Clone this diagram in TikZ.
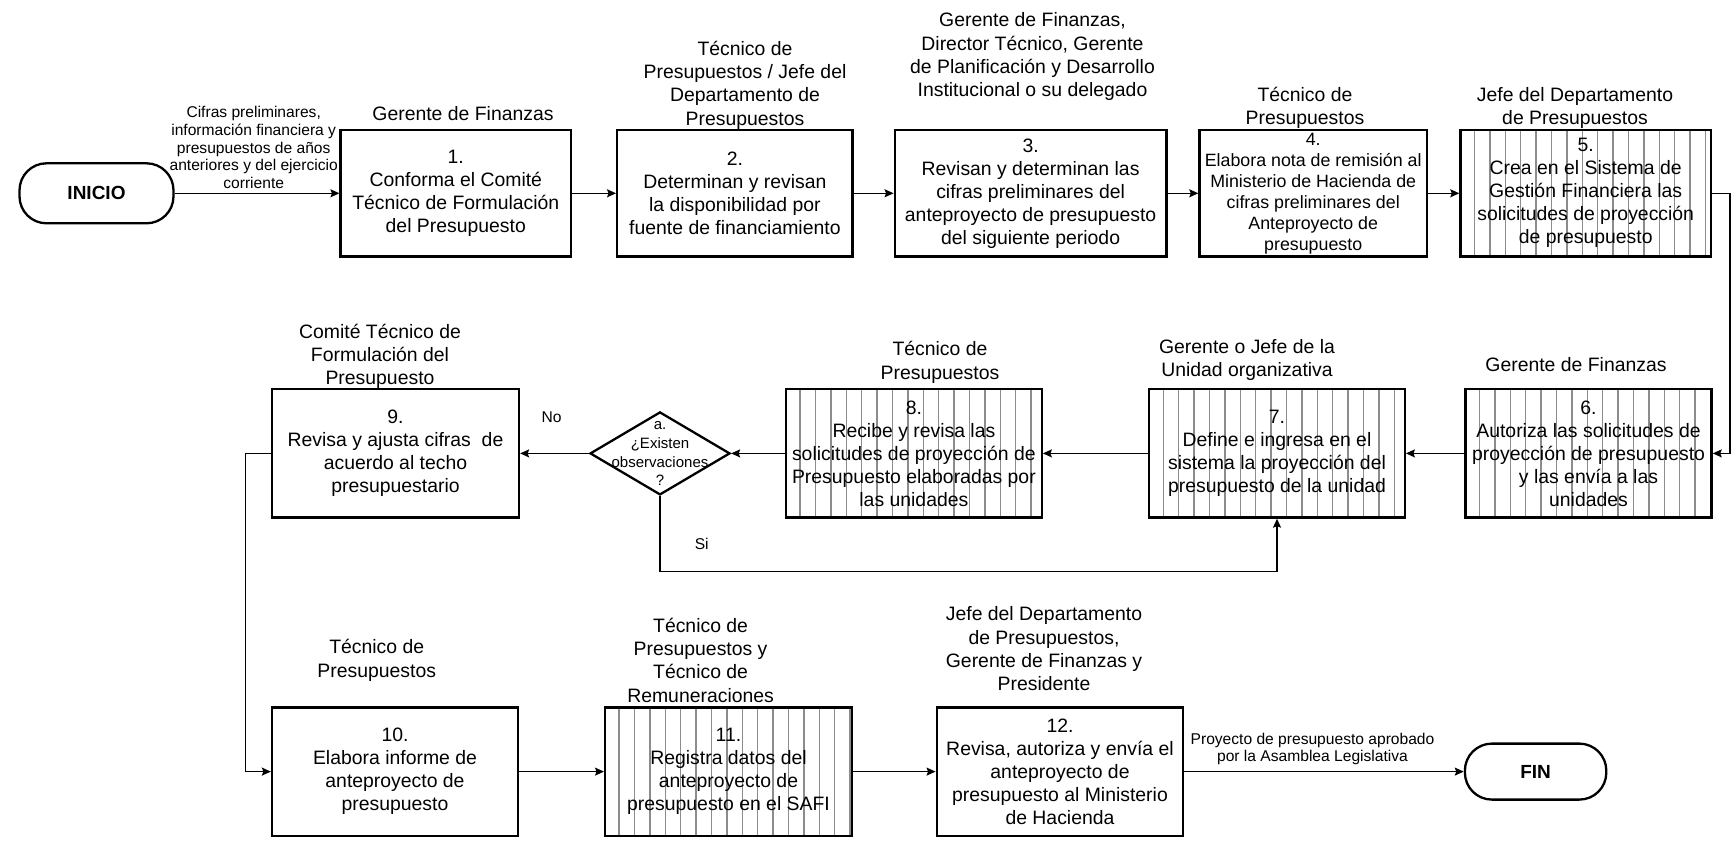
\documentclass[tikz,border=0pt]{standalone}
\usepackage{fontspec}
\setmainfont{Liberation Sans}
\usetikzlibrary{shapes.geometric,arrows.meta}
\begin{document}
\begin{tikzpicture}[x=1pt,y=-1pt,
  box/.style={draw, line width=2.3pt, rectangle, align=center, inner sep=0pt,
    font=\fontsize{19.4}{23}\selectfont},
  stripeline/.style={draw=black!45, line width=1.4pt},
  striped/.style={path picture={
    \foreach \i in {1,...,17}{
      \draw[stripeline] ([xshift=14pt+(\i-1)*15.4pt]path picture bounding box.north west)
        -- ([xshift=14pt+(\i-1)*15.4pt]path picture bounding box.south west);}}},
  term/.style={draw, line width=2.3pt, rectangle, rounded corners=27pt, inner sep=0pt,
    font=\fontsize{19}{22}\selectfont\bfseries},
  dec/.style={draw, line width=2.3pt, diamond, aspect=1, inner sep=0pt},
  role/.style={align=center, inner sep=0pt, font=\fontsize{19.4}{23.3}\selectfont},
  small/.style={align=center, inner sep=0pt, font=\fontsize{15.6}{17.9}\selectfont},
  arr/.style={line width=1.4pt, -{Stealth[length=9pt,width=8pt,inset=1.5pt]}},
  ln/.style={line width=1.4pt}
]
\useasboundingbox (0,0) rectangle (1733,841);

% ---------- row 1 ----------
\node[term, minimum width=154pt, minimum height=60pt] (ini) at (96.5,193.3) {INICIO};
\node[box, minimum width=230.4pt, minimum height=126.5pt] (b1) at (455.8,193.3)
  {1.\\Conforma el Comité\\Técnico de Formulación\\del Presupuesto};
\node[box, minimum width=235.4pt, minimum height=126.5pt] (b2) at (734.9,193.3)
  {2.\\Determinan y revisan\\la disponibilidad por\\fuente de financiamiento};
\node[box, minimum width=271.7pt, minimum height=126.5pt] (b3) at (1030.6,193.3)
  {3.\\Revisan y determinan las\\cifras preliminares del\\anteproyecto de presupuesto\\del siguiente periodo};
\node[box, minimum width=227.5pt, minimum height=126.5pt, font=\fontsize{17.8}{21}\selectfont] (b4) at (1313.2,193.3)
  {4.\\Elabora nota de remisión al\\Ministerio de Hacienda de\\cifras preliminares del\\Anteproyecto de\\presupuesto};
\node[box, striped, minimum width=250.5pt, minimum height=126.5pt] (b5) at (1585.7,193.3)
  {5.\\Crea en el Sistema de\\Gestión Financiera las\\solicitudes de proyección\\de presupuesto};

\node[role] (r1) at (463,113.3) {Gerente de Finanzas};
\node[role] (r2) at (745,85) {Técnico de\\Presupuestos / Jefe del\\Departamento de\\Presupuestos};
\node[role] (r3) at (1032.5,56.7) {Gerente de Finanzas,\\Director Técnico, Gerente\\de Planificación y Desarrollo\\Institucional o su delegado};
\node[role] (r4) at (1305,108) {Técnico de\\Presupuestos};
\node[role] (r5) at (1575,108) {Jefe del Departamento\\de Presupuestos};
\node[small] (l0) at (253.7,147.5) {Cifras preliminares,\\información financiera y\\presupuestos de años\\anteriores y del ejercicio\\corriente};

% ---------- row 2 ----------
\node[box, striped, minimum width=246.2pt, minimum height=128.2pt] (b6) at (1588.5,453.4)
  {6.\\Autoriza las solicitudes de\\proyección de presupuesto\\y las envía a las\\unidades};
\node[box, striped, minimum width=255.5pt, minimum height=128.2pt] (b7) at (1277,453.4)
  {7.\\Define e ingresa en el\\sistema la proyección del\\presupuesto de la unidad};
\node[box, striped, minimum width=255.7pt, minimum height=128.2pt] (b8) at (913.9,453.4)
  {8.\\Recibe y revisa las\\solicitudes de proyección de\\Presupuesto elaboradas por\\las unidades};
\node[dec, minimum width=140pt, minimum height=83pt] (dia) at (660,453.4) {};
\node[align=center, inner sep=0pt, font=\fontsize{15}{18.7}\selectfont] (dt) at (660,453.7)
  {a.\\¿Existen\\observaciones\\?};
\node[box, minimum width=247pt, minimum height=128.2pt] (b9) at (395.5,453.4)
  {9.\\Revisa y ajusta cifras\ \ de\\acuerdo al techo\\presupuestario};

\node[role] (r6) at (1576,364.3) {Gerente de Finanzas};
\node[role] (r7) at (1247,360) {Gerente o Jefe de la\\Unidad organizativa};
\node[role] (r8) at (940,362.5) {Técnico de\\Presupuestos};
\node[role] (r9) at (380,356.4) {Comité Técnico de\\Formulación del\\Presupuesto};
\node[small] (lno) at (551.7,417) {No};
\node[small] (lsi) at (701.7,544) {Si};

% ---------- row 3 ----------
\node[box, minimum width=246pt, minimum height=128.2pt] (b10) at (395,771.6)
  {10.\\Elabora informe de\\anteproyecto de\\presupuesto};
\node[box, striped, minimum width=246.7pt, minimum height=128.2pt] (b11) at (728.5,771.6)
  {11.\\Registra datos del\\anteproyecto de\\presupuesto en el SAFI};
\node[box, minimum width=246.6pt, minimum height=128.2pt] (b12) at (1060,771.6)
  {12.\\Revisa, autoriza y envía el\\anteproyecto de\\presupuesto al Ministerio\\de Hacienda};
\node[term, minimum width=141.4pt, minimum height=56pt] (fin) at (1535.6,771.6) {FIN};

\node[role] (r10) at (376.7,660.3) {Técnico de\\Presupuestos};
\node[role] (r11) at (700.6,660) {Técnico de\\Presupuestos y\\Técnico de\\Remuneraciones};
\node[role] (r12) at (1044,649) {Jefe del Departamento\\de Presupuestos,\\Gerente de Finanzas y\\Presidente};
\node[small] (l1) at (1312.5,749) {Proyecto de presupuesto aprobado\\por la Asamblea Legislativa};

% ---------- connectors ----------
\coordinate (c1) at (1730,193.3);
\coordinate (si) at (660,571.7);
\coordinate (c2) at (245.7,453.4);

\draw[arr] (ini) -- (b1);
\draw[arr] (b1) -- (b2);
\draw[arr] (b2) -- (b3);
\draw[arr] (b3) -- (b4);
\draw[arr] (b4) -- (b5);
\draw[arr] (b5.east) -- (c1) |- (b6.east);
\draw[arr] (b6) -- (b7);
\draw[arr] (b7) -- (b8);
\draw[arr] (b8) -- (dia);
\draw[arr] (dia) -- (b9);
\draw[arr] (dia.south) -- (si) -| (b7.south);
\draw[arr] (b9.west) -- (c2) |- (b10.west);
\draw[arr] (b10) -- (b11);
\draw[arr] (b11) -- (b12);
\draw[arr] (b12) -- (fin);
\end{tikzpicture}
\end{document}
